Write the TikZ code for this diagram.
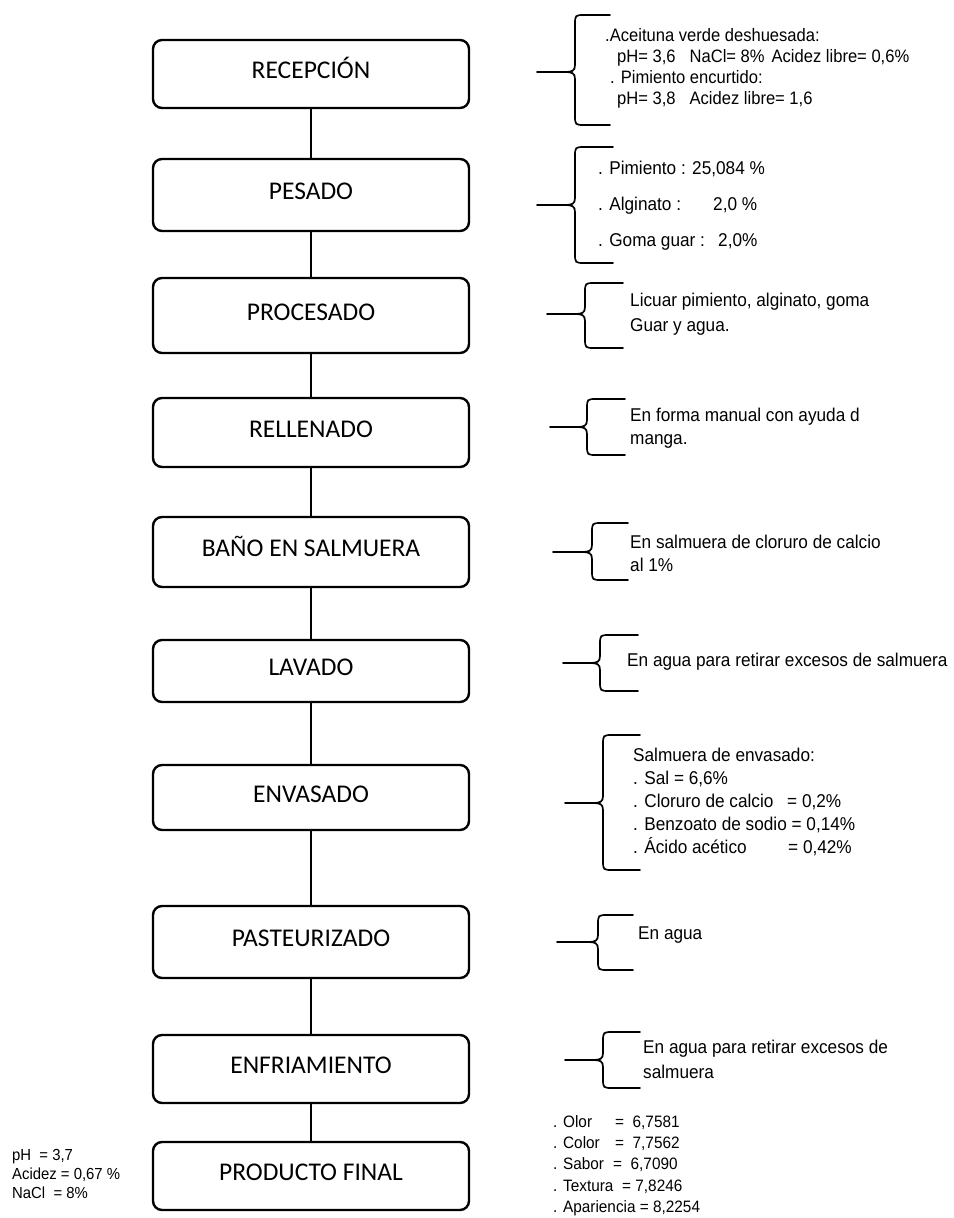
\documentclass[tikz,border=0pt]{standalone}
\usepackage{fontspec}
\setmainfont{Liberation Sans}
\newfontfamily\boxfont{Carlito}
\newfontfamily\notefont[FakeStretch=0.93]{Liberation Sans}
\newfontfamily\recfont[FakeStretch=0.92]{Liberation Sans}
\newcommand\annbrace[6]{%
  \draw[bracestroke] (#6,#2) -- ({#1+10},#2) .. controls (#1,#2) .. (#1,{#2+10})
    -- (#1,{#3-7}) .. controls (#1,{#3-1}) and ({#1-3},#3) .. ({#1-10},#3) -- (#5,#3);
  \draw[bracestroke] ({#1-10},#3) .. controls ({#1-3},#3) and (#1,{#3+1}) .. (#1,{#3+7})
    -- (#1,{#4-10}) .. controls (#1,#4) .. ({#1+10},#4) -- (#6,#4);
}
\begin{document}
\begin{tikzpicture}[x=1pt,y=-1pt,
  stepbox/.style={draw, line width=2.4pt, rounded corners=9pt, minimum width=316pt,
    minimum height=68pt, inner sep=0pt, text height=18pt, text depth=9pt,
    font=\boxfont\fontsize{25.5}{28}\selectfont},
  link/.style={line width=2pt},
  bracestroke/.style={line width=1.7pt, line cap=round, line join=round},
  note/.style={anchor=west, align=left, inner sep=0pt,
    font=\notefont\fontsize{18.5}{23}\selectfont},
  smallnote/.style={anchor=west, align=left, inner sep=0pt,
    font=\notefont\fontsize{16.5}{21.3}\selectfont}]
\useasboundingbox (0,0) rectangle (953,1218);

% process boxes
\node[stepbox] (rec) at (311,74) {RECEPCIÓN};
\node[stepbox, minimum height=72pt] (pes) at (311,195) {PESADO};
\node[stepbox, minimum height=75pt] (pro) at (311,315.5) {PROCESADO};
\node[stepbox, minimum height=69pt] (rel) at (311,432.5) {RELLENADO};
\node[stepbox, minimum height=70pt] (ban) at (311,552) {BAÑO EN SALMUERA};
\node[stepbox, minimum height=62pt] (lav) at (311,671) {LAVADO};
\node[stepbox, minimum height=65pt] (env) at (311,797.5) {ENVASADO};
\node[stepbox, minimum height=72pt] (pas) at (311,942) {PASTEURIZADO};
\node[stepbox, minimum height=68pt] (enf) at (311,1069) {ENFRIAMIENTO};
\node[stepbox, minimum height=68pt] (fin) at (311,1176) {PRODUCTO FINAL};

% connectors
\draw[link] (rec.south) -- (pes.north);
\draw[link] (pes.south) -- (pro.north);
\draw[link] (pro.south) -- (rel.north);
\draw[link] (rel.south) -- (ban.north);
\draw[link] (ban.south) -- (lav.north);
\draw[link] (lav.south) -- (env.north);
\draw[link] (env.south) -- (pas.north);
\draw[link] (pas.south) -- (enf.north);
\draw[link] (enf.south) -- (fin.north);

% braces
\annbrace{575}{15}{72}{125}{537}{610}
\annbrace{575}{147}{205}{263}{537}{613}
\annbrace{585}{283}{314}{348}{547}{623}
\annbrace{587}{399}{427}{455}{550}{625}
\annbrace{592}{523}{552}{580}{553}{628}
\annbrace{600}{635}{663}{691}{563}{638}
\annbrace{603}{735}{803}{870}{565}{640}
\annbrace{598}{915}{942}{970}{557}{633}
\annbrace{603}{1032}{1060}{1088}{565}{640}

% annotations
\node[note, font=\recfont\fontsize{18}{21}\selectfont] (trec) at (605,68)
  {.Aceituna verde deshuesada:\\
   \hspace*{12pt}pH= 3,6\hspace{14pt}NaCl= 8\%\hspace{7pt}Acidez libre= 0,6\%\\
   \hspace*{5pt}. Pimiento encurtido:\\
   \hspace*{12pt}pH= 3,8\hspace{14pt}Acidez libre= 1,6};
\node[note, font=\notefont\fontsize{18.5}{36}\selectfont] (tpes) at (598,206)
  {. Pimiento : 25,084 \%\\
   \makebox[115pt][l]{. Alginato :}2,0 \%\\
   \makebox[120pt][l]{. Goma guar :}2,0\%};
\node[note, font=\notefont\fontsize{18.5}{25}\selectfont] (tpro) at (630,314.5)
  {Licuar pimiento, alginato, goma\\Guar y agua.};
\node[note] (trel) at (630,428.5) {En forma manual con ayuda d\\manga.};
\node[note] (tban) at (630,553.5) {En salmuera de cloruro de calcio\\al 1\%};
\node[note] (tlav) at (627,662) {En agua para retirar excesos de salmuera};
\node[note] (tenv) at (633,801.5)
  {Salmuera de envasado:\\
   . Sal = 6,6\%\\
   \makebox[154pt][l]{. Cloruro de calcio}= 0,2\%\\
   . Benzoato de sodio = 0,14\%\\
   \makebox[155pt][l]{. Ácido acético}= 0,42\%};
\node[note] (tpas) at (638,935) {En agua};
\node[note, font=\notefont\fontsize{18.5}{25}\selectfont] (tenf) at (643,1059.5)
  {En agua para retirar excesos de\\salmuera};
\node[smallnote] (tsen) at (553,1165.5)
  {\makebox[62pt][l]{. Olor}=\ \ 6,7581\\
   \makebox[62pt][l]{. Color}=\ \ 7,7562\\
   \makebox[60pt][l]{. Sabor}=\ \ 6,7090\\
   \makebox[69pt][l]{. Textura}= 7,8246\\
   . Apariencia = 8,2254};
\node[smallnote, font=\notefont\fontsize{16}{19}\selectfont] (tfq) at (12,1174)
  {pH\ \ = 3,7\\Acidez = 0,67 \%\\NaCl\ \ = 8\%};
\end{tikzpicture}
\end{document}
